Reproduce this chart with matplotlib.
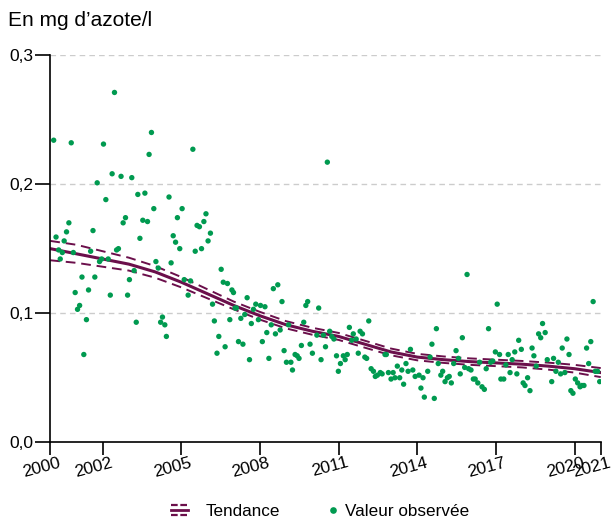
import matplotlib
matplotlib.use('Agg')
import matplotlib.pyplot as plt
import matplotlib.transforms as mtransforms
from matplotlib.lines import Line2D
from matplotlib.legend_handler import HandlerBase

plt.rcParams['font.family'] = ['Liberation Sans', 'DejaVu Sans']

green = '#009a50'
maroon = '#6b0f4b'

# observations (decimal year, mg d'azote/l)
obs_year = [
    2000.13, 2000.80, 2002.45, 2002.03, 2002.36, 2002.70, 2003.11, 2001.79, 2003.34, 2002.12,
    2002.87, 2002.78, 2000.71, 2000.62, 2001.63, 2000.22, 2000.53, 2003.42, 2000.32, 2000.46,
    2000.88, 2001.54, 2000.38, 2002.53, 2002.60, 2001.96, 2001.88, 2002.21, 2003.20, 2001.21,
    2001.70, 2003.02, 2000.95, 2001.46, 2002.29, 2002.95, 2001.12, 2001.04, 2001.38, 2003.28,
    2001.28,
    2003.86, 2003.77, 2005.44, 2003.61, 2004.53, 2003.95, 2005.03, 2004.85, 2005.94, 2003.53,
    2003.71, 2005.60, 2005.69, 2005.86, 2004.69, 2006.11, 2004.78, 2006.02, 2004.94, 2005.53,
    2005.77, 2004.03, 2004.61, 2004.12, 2006.52, 2005.11, 2005.35, 2006.60, 2006.76, 2005.26,
    2006.93, 2006.99, 2006.19, 2007.05, 2004.28, 2004.21, 2004.37, 2006.85, 2006.26, 2004.43,
    2006.43, 2006.67, 2006.36,
    2010.57, 2008.68, 2008.51, 2008.84, 2007.51, 2009.82, 2009.75, 2010.24, 2007.10, 2007.84,
    2008.02, 2008.19, 2007.75, 2007.42, 2007.27, 2007.94, 2007.67, 2008.43, 2009.67, 2009.09,
    2008.77, 2008.59, 2008.26, 2010.17, 2010.42, 2010.66, 2007.18, 2007.35, 2008.09, 2009.58,
    2009.91, 2010.50, 2008.92, 2010.00, 2009.34, 2009.42, 2009.49, 2007.60, 2008.34, 2010.33,
    2009.01, 2009.18, 2009.24,
    2012.15, 2011.41, 2011.82, 2011.91, 2011.56, 2010.74, 2010.82, 2011.67, 2011.50, 2010.92,
    2011.18, 2011.33, 2011.75, 2012.00, 2012.07, 2012.77, 2012.82, 2011.25, 2011.07, 2010.99,
    2012.24, 2012.33, 2012.59, 2012.66, 2012.48, 2012.40, 2012.90, 2013.08, 2013.24, 2013.41,
    2013.57, 2013.74, 2013.65, 2013.83, 2013.00, 2013.15, 2013.33, 2013.48, 2013.92, 2014.07,
    2014.22, 2014.14, 2014.27,
    2015.90, 2017.05, 2014.73, 2016.72, 2015.72, 2014.56, 2017.87, 2015.48, 2016.98, 2017.14,
    2017.47, 2017.72, 2014.49, 2015.57, 2017.62, 2014.80, 2015.39, 2016.38, 2016.80, 2016.88,
    2017.38, 2015.81, 2016.63, 2015.96, 2016.05, 2014.40, 2014.97, 2015.64, 2017.54, 2017.80,
    2014.90, 2015.22, 2015.15, 2016.14, 2016.21, 2017.19, 2017.30, 2015.06, 2015.30, 2016.31,
    2016.47, 2016.56, 2014.65,
    2020.71, 2018.78, 2018.63, 2018.88, 2018.71, 2019.71, 2020.62, 2018.38, 2019.53, 2020.46,
    2017.97, 2018.45, 2019.79, 2018.96, 2019.20, 2019.38, 2020.54, 2018.54, 2019.29, 2019.63,
    2019.47, 2020.79, 2020.88, 2020.96, 2018.21, 2019.13, 2020.03, 2020.12, 2020.21, 2020.28,
    2020.36, 2018.04, 2018.11, 2018.30, 2019.86, 2019.94,
]
obs_val = [
    0.234, 0.232, 0.271, 0.231, 0.208, 0.206, 0.205, 0.201, 0.192, 0.188,
    0.174, 0.170, 0.170, 0.163, 0.164, 0.159, 0.156, 0.158, 0.149, 0.147,
    0.147, 0.148, 0.142, 0.149, 0.150, 0.142, 0.140, 0.142, 0.133, 0.128,
    0.128, 0.126, 0.116, 0.118, 0.114, 0.114, 0.106, 0.103, 0.095, 0.093,
    0.068,
    0.240, 0.223, 0.227, 0.193, 0.190, 0.181, 0.181, 0.174, 0.177, 0.172,
    0.171, 0.168, 0.167, 0.171, 0.160, 0.162, 0.155, 0.156, 0.150, 0.148,
    0.150, 0.140, 0.139, 0.135, 0.134, 0.126, 0.125, 0.124, 0.123, 0.114,
    0.118, 0.116, 0.107, 0.104, 0.097, 0.093, 0.091, 0.095, 0.094, 0.082,
    0.082, 0.074, 0.069,
    0.217, 0.122, 0.119, 0.109, 0.112, 0.109, 0.106, 0.104, 0.104, 0.107,
    0.106, 0.105, 0.103, 0.099, 0.096, 0.095, 0.092, 0.091, 0.093, 0.091,
    0.087, 0.084, 0.085, 0.083, 0.083, 0.086, 0.078, 0.076, 0.078, 0.075,
    0.076, 0.074, 0.071, 0.069, 0.068, 0.067, 0.065, 0.064, 0.065, 0.064,
    0.062, 0.062, 0.056,
    0.094, 0.089, 0.086, 0.084, 0.084, 0.082, 0.080, 0.080, 0.079, 0.067,
    0.067, 0.068, 0.069, 0.066, 0.065, 0.068, 0.068, 0.064, 0.061, 0.055,
    0.057, 0.055, 0.054, 0.053, 0.052, 0.051, 0.054, 0.054, 0.059, 0.056,
    0.061, 0.072, 0.055, 0.056, 0.049, 0.050, 0.050, 0.045, 0.051, 0.052,
    0.050, 0.042, 0.035,
    0.130, 0.107, 0.088, 0.088, 0.081, 0.076, 0.079, 0.071, 0.070, 0.068,
    0.068, 0.070, 0.066, 0.065, 0.064, 0.061, 0.061, 0.062, 0.062, 0.063,
    0.060, 0.058, 0.057, 0.057, 0.056, 0.055, 0.055, 0.053, 0.054, 0.053,
    0.052, 0.051, 0.050, 0.049, 0.049, 0.049, 0.049, 0.047, 0.046, 0.046,
    0.043, 0.041, 0.034,
    0.109, 0.092, 0.084, 0.085, 0.081, 0.080, 0.078, 0.073, 0.073, 0.073,
    0.072, 0.067, 0.068, 0.064, 0.065, 0.062, 0.061, 0.059, 0.055, 0.054,
    0.053, 0.055, 0.055, 0.047, 0.050, 0.047, 0.049, 0.046, 0.043, 0.044,
    0.044, 0.046, 0.044, 0.040, 0.040, 0.038,
]

# trend with its confidence band
trend_year = list(range(2000, 2022))
trend = [0.150, 0.146, 0.142, 0.138, 0.132, 0.124, 0.115, 0.106, 0.098, 0.091, 0.086,
         0.082, 0.076, 0.070, 0.066, 0.064, 0.0625, 0.0615, 0.0605, 0.059, 0.057, 0.054]
trend_hi = [0.156, 0.153, 0.148, 0.143, 0.1365, 0.128, 0.1185, 0.109, 0.101, 0.0938, 0.0887,
            0.0847, 0.0787, 0.0726, 0.0685, 0.0665, 0.065, 0.064, 0.063, 0.0617, 0.060, 0.0575]
trend_lo = [0.141, 0.139, 0.136, 0.133, 0.1275, 0.120, 0.1115, 0.103, 0.095, 0.0882, 0.0833,
            0.0793, 0.0733, 0.0674, 0.0635, 0.0615, 0.060, 0.059, 0.058, 0.0563, 0.054, 0.0505]

xticks = [2000, 2002, 2005, 2008, 2011, 2014, 2017, 2020, 2021]
yticks = [0.0, 0.1, 0.2, 0.3]
ylabels = ['0,0', '0,1', '0,2', '0,3']


class HandlerBand(HandlerBase):
    # three stripes: dashed / solid / dashed
    def create_artists(self, legend, orig_handle, xdescent, ydescent, width, height, fontsize, trans):
        yc = height / 2 - ydescent
        arts = []
        for dy, ls, lw in [(3.5, (0, (3, 1.2)), 1.6), (0, '-', 2.0), (-3.5, (0, (3, 1.2)), 1.6)]:
            l = Line2D([-xdescent, -xdescent + width], [yc + dy, yc + dy],
                       color=maroon, lw=lw, linestyle=ls, transform=trans)
            arts.append(l)
        return arts


class HandlerDot(HandlerBase):
    # single dot sitting just before the label
    def create_artists(self, legend, orig_handle, xdescent, ydescent, width, height, fontsize, trans):
        yc = height / 2 - ydescent
        d = Line2D([-xdescent + width + 4], [yc], marker='o', markersize=4.8, color=green,
                   markeredgewidth=0, linestyle='none', transform=trans)
        return [d]


fig = plt.figure(figsize=(6.13, 5.19), dpi=100)
ax = fig.add_axes([0.082, 0.1478, 0.898, 0.7462])

for y in [0.1, 0.2, 0.3]:
    ax.axhline(y, color='#cccccc', lw=1, linestyle=(0, (4, 3)), zorder=0)

ax.plot(trend_year, trend_hi, color=maroon, lw=1.4, linestyle=(0, (5, 3)), zorder=2)
ax.plot(trend_year, trend_lo, color=maroon, lw=1.4, linestyle=(0, (5, 3)), zorder=2)
ax.plot(trend_year, trend, color=maroon, lw=2.2, zorder=2)
ax.scatter(obs_year, obs_val, s=15, color=green, edgecolors='none', zorder=3)

ax.set_xlim(2000, 2021)
ax.set_ylim(0, 0.3)
for s in ['top', 'right']:
    ax.spines[s].set_visible(False)
ax.spines['left'].set_linewidth(1.2)
ax.spines['bottom'].set_linewidth(1.2)

ax.set_yticks(yticks)
ax.set_yticklabels(ylabels, fontsize=12.5)
ax.tick_params(axis='y', length=11, width=1.2, pad=1)

# year labels, slanted and nudged left of their ticks
ax.set_xticks(xticks)
ax.set_xticklabels([])
ax.tick_params(axis='x', length=9, width=1.2)
lab_trans = ax.get_xaxis_transform() + mtransforms.ScaledTranslation(-0.09, -0.25, fig.dpi_scale_trans)
for t in xticks:
    ax.text(t, 0, str(t), transform=lab_trans, rotation=15, ha='center', va='center',
            fontsize=12.5, clip_on=False)

fig.text(0.013, 0.95, "En mg d\u2019azote/l", fontsize=15, ha='left', va='baseline')

h_trend = Line2D([], [], color=maroon)
h_obs = Line2D([], [], marker='o', color=green, linestyle='none')
fig.legend([h_trend, h_obs], ['Tendance', 'Valeur observ\u00e9e'],
           handler_map={h_trend: HandlerBand(), h_obs: HandlerDot()},
           loc='lower center', bbox_to_anchor=(0.522, -0.03), ncol=2, frameon=False,
           fontsize=12.3, handlelength=1.0, handletextpad=1.0, columnspacing=1.8)

fig.savefig('out.png', dpi=100)
